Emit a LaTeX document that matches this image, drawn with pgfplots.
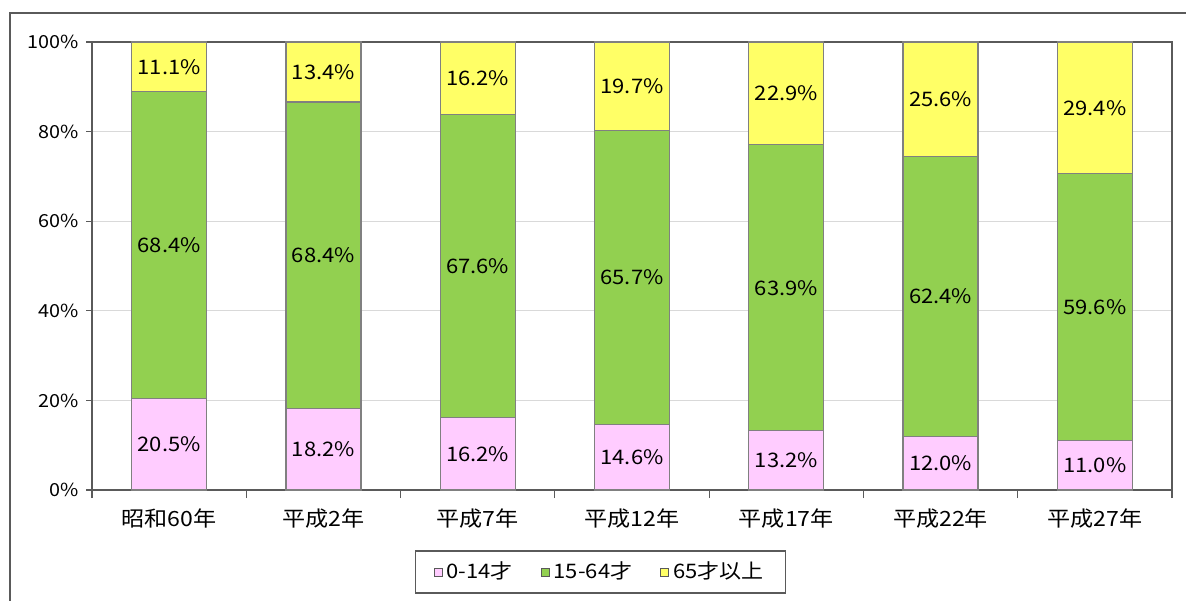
\documentclass[border=0pt]{standalone}
\usepackage{pgfplots}
\pgfplotsset{compat=1.18}
\usepackage{fontspec}
\setmainfont{Noto Sans CJK JP}[FakeStretch=1.1]
\definecolor{kidpink}{RGB}{255,204,255}
\definecolor{workgreen}{RGB}{146,208,80}
\definecolor{oldyellow}{RGB}{255,255,102}
\definecolor{framegray}{RGB}{90,90,90}
\definecolor{barline}{RGB}{128,128,128}
\pgfplotstableread{
x young work old
0 20.5 68.4 11.1
1 18.2 68.4 13.4
2 16.2 67.6 16.2
3 14.6 65.7 19.7
4 13.2 63.9 22.9
5 12.0 62.4 25.6
6 11.0 59.6 29.4
}\datatable
\pgfplotstableread{
x y v
0 10.25 20.5
1 9.10 18.2
2 8.10 16.2
3 7.30 14.6
4 6.60 13.2
5 6.00 12.0
6 5.50 11.0
0 54.70 68.4
1 52.40 68.4
2 50.00 67.6
3 47.45 65.7
4 45.15 63.9
5 43.20 62.4
6 40.80 59.6
0 94.45 11.1
1 93.30 13.4
2 91.90 16.2
3 90.15 19.7
4 88.55 22.9
5 87.20 25.6
6 85.30 29.4
}\labeltable
\begin{document}
\begin{tikzpicture}[x=1pt,y=1pt]
\useasboundingbox (0,0) rectangle (593,300);
\draw[framegray, line width=0.8pt] (5,-2) -- (5,293.5) -- (596,293.5);
\begin{axis}[
  at={(46pt,55pt)}, anchor=south west,
  scale only axis, width=540pt, height=224pt,
  ybar stacked, bar width=37.5pt,
  xmin=-0.5, xmax=6.5, ymin=0, ymax=100,
  xtick={0,...,6},
  xticklabels={昭和60年,平成2年,平成7年,平成12年,平成17年,平成22年,平成27年},
  minor xtick={-0.5,0.5,...,6.5},
  ytick={0,20,...,100},
  yticklabel={\pgfmathprintnumber{\tick}\%},
  /pgf/number format/assume math mode=true,
  tick pos=left,
  tick align=outside,
  major tick length=3pt,
  minor tick length=4pt,
  major x tick style={draw=none},
  minor x tick style={framegray, line width=0.6pt},
  major y tick style={framegray, line width=0.6pt},
  ymajorgrids,
  grid style={gray!30, line width=0.6pt},
  axis line style={framegray, line width=0.8pt},
  xticklabel style={font=\fontsize{10.5}{12}\selectfont, yshift=-3pt},
  yticklabel style={font=\fontsize{9}{10}\selectfont},
  legend style={at={(0.471,-0.183)}, anchor=center, legend columns=3,
    draw=framegray, line width=0.6pt, font=\fontsize{10}{11}\selectfont,
    /tikz/every even column/.append style={column sep=12pt},
    inner xsep=9pt, inner ysep=3.5pt},
  legend image code/.code={\draw[#1,draw=black!65,line width=0.4pt] (0pt,-2pt) rectangle (4pt,2pt);},
]
\addplot[fill=kidpink, draw=barline, line width=0.6pt] table[x=x,y=young]{\datatable};
\addplot[fill=workgreen, draw=barline, line width=0.6pt] table[x=x,y=work]{\datatable};
\addplot[fill=oldyellow, draw=barline, line width=0.6pt] table[x=x,y=old]{\datatable};
\legend{0-14才,15-64才,65才以上}
\end{axis}
\begin{axis}[
  at={(46pt,55pt)}, anchor=south west,
  scale only axis, width=540pt, height=224pt,
  xmin=-0.5, xmax=6.5, ymin=0, ymax=100,
  hide axis,
]
\addplot[only marks, mark=none, point meta=explicit,
  nodes near coords={\pgfmathprintnumber[fixed,fixed zerofill,precision=1,assume math mode=true]{\pgfplotspointmeta}\%},
  nodes near coords style={font=\fontsize{10}{11}\selectfont, anchor=center, text=black}]
  table[x=x,y=y,meta=v]{\labeltable};
\end{axis}
\end{tikzpicture}
\end{document}
